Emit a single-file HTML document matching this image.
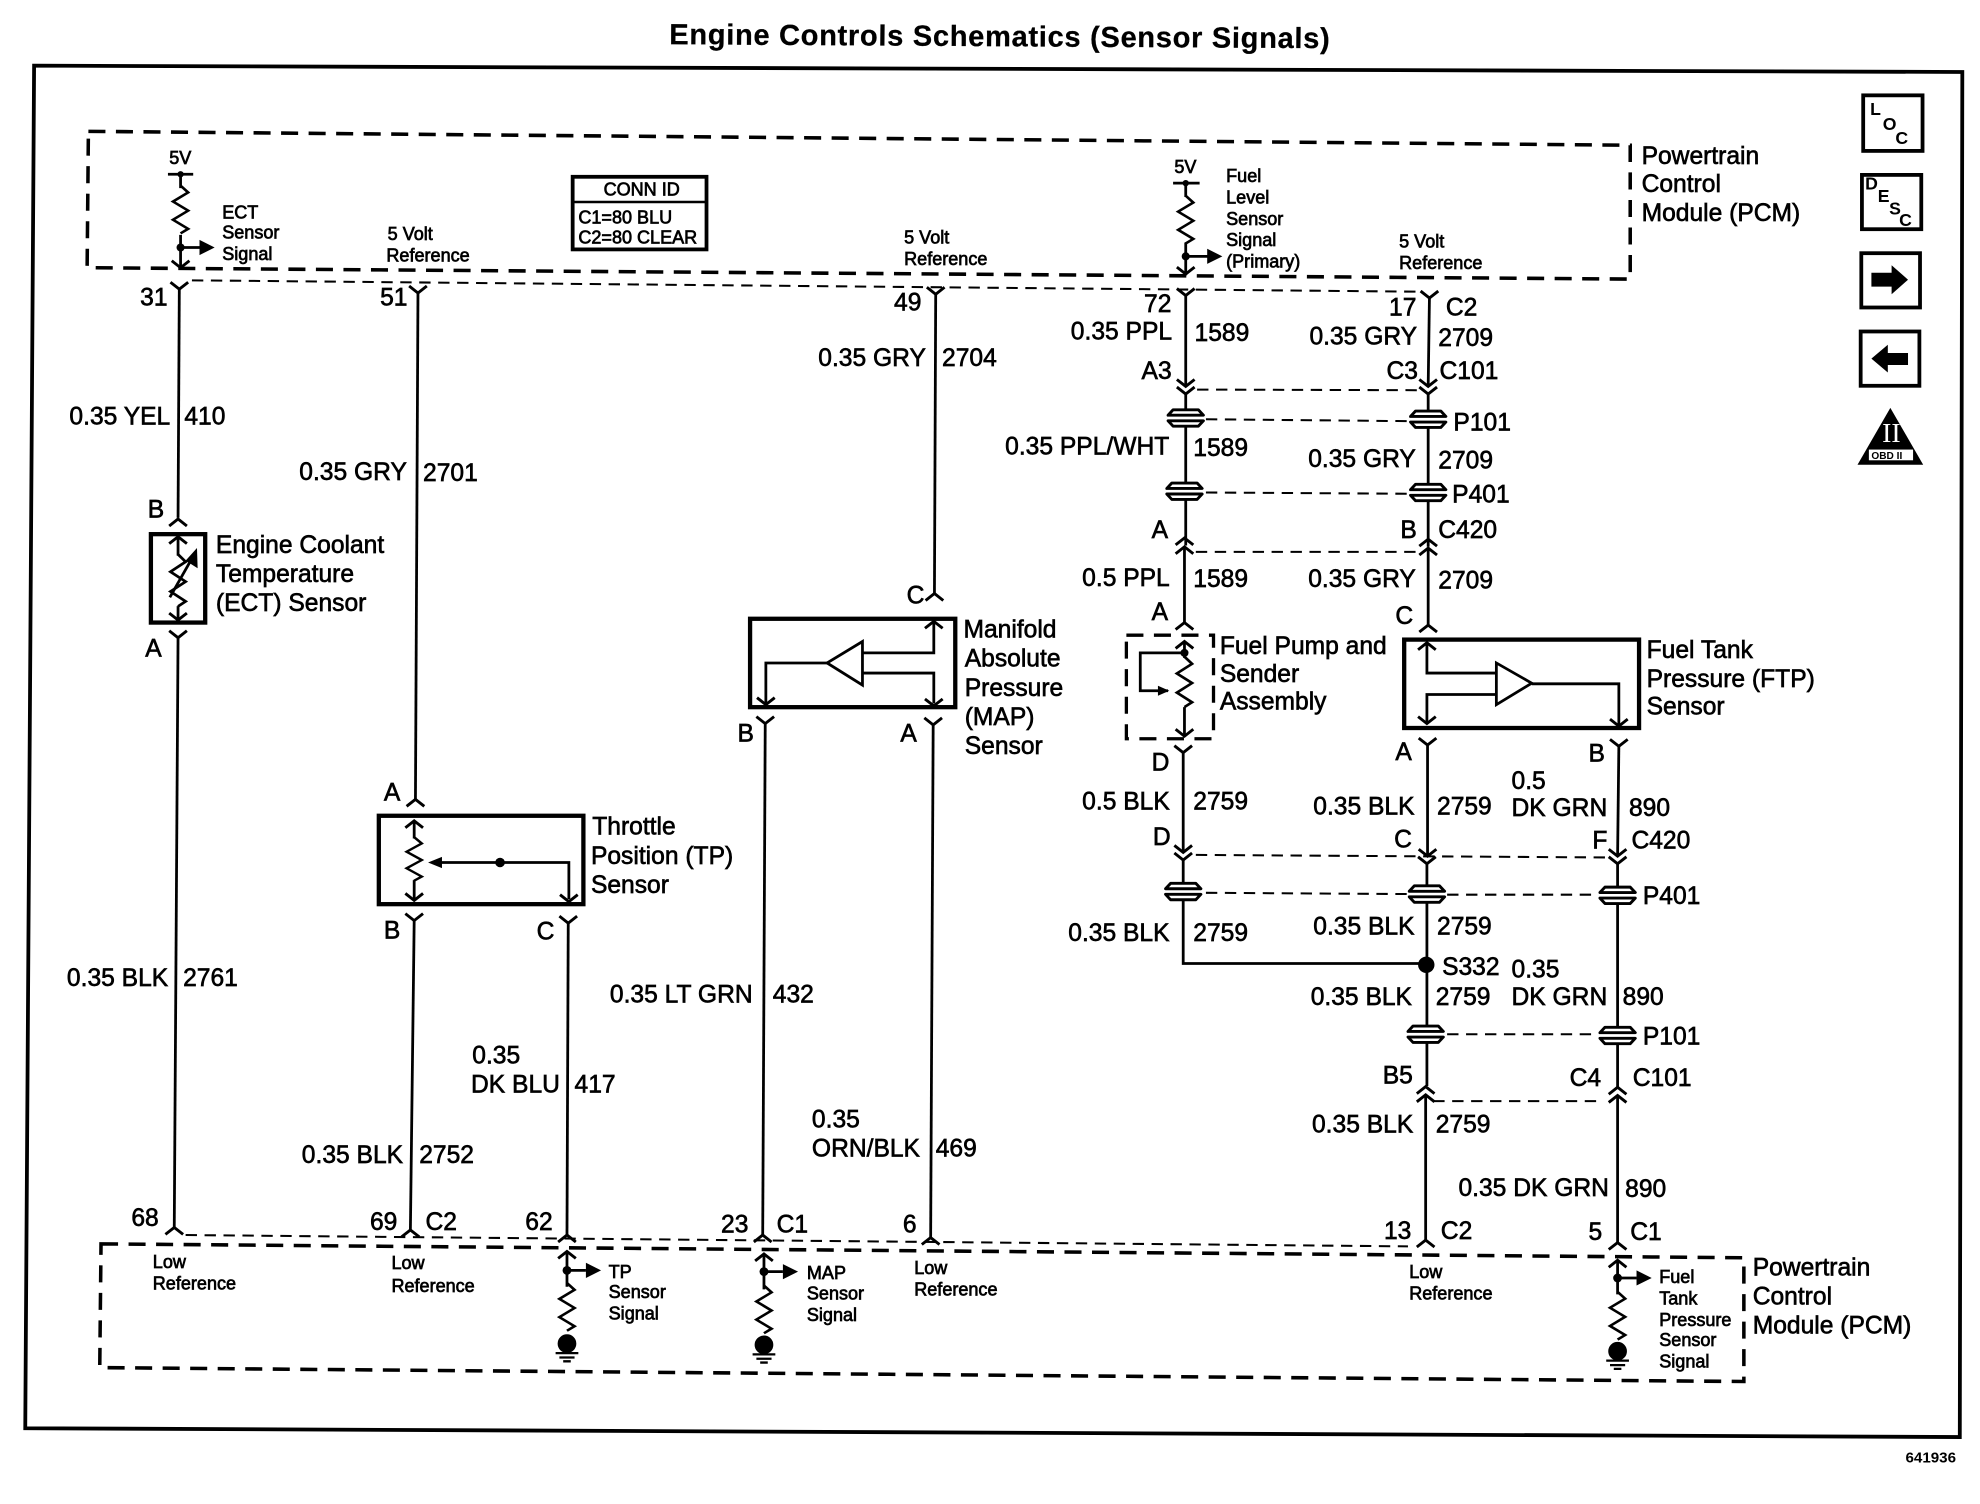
<!DOCTYPE html>
<html><head><meta charset="utf-8"><title>Engine Controls Schematics (Sensor Signals)</title>
<style>
html,body{margin:0;padding:0;background:#fff}
svg{display:block}
text{font-family:"Liberation Sans",sans-serif;fill:#000;stroke:#000}
.l{font-size:19.5px;stroke-width:.5}
.s{font-size:14.3px;stroke-width:.55}
.w{fill:none;stroke:#000;stroke-width:2.2}
.b{fill:none;stroke:#000;stroke-width:3.2}
.d{fill:none;stroke:#000;stroke-width:2.8;stroke-dasharray:13.5 8.3}
.h{fill:none;stroke:#000;stroke-width:1.6;stroke-dasharray:9 6}
</style></head><body>
<svg xmlns="http://www.w3.org/2000/svg" width="1980" height="1504" viewBox="0 0 1568 1191" preserveAspectRatio="none">
<defs>
<path id="v" d="M-7,-5.500L0,0L7,-5.500" fill="none" stroke="#000" stroke-width="2.300"/>
<path id="a" d="M-7,5.500L0,0L7,5.500" fill="none" stroke="#000" stroke-width="2.300"/>
<g id="p" fill="none" stroke="#000" stroke-width="2.300" stroke-linejoin="round">
<rect x="-13" y="-7" width="26" height="14" fill="#fff" stroke="none"/>
<path d="M-14,-2.200L-10,-6.500H10L14,-2.200Z"/>
<path d="M-14,2.200L-10,6.500H10L14,2.200Z"/>
</g>
<path id="z" d="M0,0L6,6L-6,14L6,22L-6,30L6,38L0,42" fill="none" stroke="#000" stroke-width="2.200"/>
<g id="g" stroke="#000" stroke-width="1.800"><circle cx="0" cy="0" r="6.500" fill="#000"/><path d="M-9,7.500H9M-6,11H6M-3,14H3"/></g>
<path id="rh" d="M0,-6L12,0L0,6Z" fill="#000"/>
</defs>

<!-- title -->
<text x="530" y="35" font-size="23" font-weight="bold" textLength="523" transform="rotate(.35 530 35)" style="stroke-width:.2">Engine Controls Schematics (Sensor Signals)</text>

<!-- frame -->
<path d="M27,52L1554,57L1552,1138L20,1131Z" fill="none" stroke="#000" stroke-width="3"/>
<text x="1509" y="1158" font-size="12" font-weight="bold" style="stroke-width:0">641936</text>

<!-- PCM boxes -->
<path class="d" d="M70,104L1291,115L1291,221L69,212Z"/>
<path class="d" d="M80,985L1381,996L1381,1094L79,1083Z"/>
<path class="h" d="M152,222L1124,231"/>
<path class="h" d="M147,978L1115,987"/>

<!-- ECT PCM -->
<path class="w" d="M133,138H153M143,138V149M143,186V212M143,196H160"/>
<circle cx="143" cy="138" r="2.500"/><circle cx="143" cy="196" r="3.200"/>
<g transform="translate(143 147) scale(1 .9)"><use href="#z"/></g>
<use href="#rh" x="158" y="196"/>
<use href="#v" x="143" y="212"/>
<!-- Fuel PCM -->
<path class="w" d="M929,145H950M939,145V156M939,192V218M939,203H957"/>
<circle cx="939" cy="145" r="2.500"/><circle cx="939" cy="203" r="3.200"/>
<g transform="translate(939 155) scale(1 .9)"><use href="#z"/></g>
<use href="#rh" x="956" y="203"/>
<use href="#v" x="939" y="217"/>

<!-- CONN ID -->
<rect x="453.500" y="140" width="106" height="57.500" fill="none" stroke="#000" stroke-width="3"/>
<path d="M453,160H560" stroke="#000" stroke-width="2"/>
<text class="s" x="478" y="155">CONN ID</text>
<text class="s" x="458" y="177">C1=80 BLU</text>
<text class="s" x="458" y="193">C2=80 CLEAR</text>

<!-- wire 31 / ECT -->
<use href="#v" x="142" y="229"/><path class="w" d="M142,229L141,410"/>
<use href="#a" x="141" y="411"/>
<rect x="119.500" y="423" width="43" height="70" fill="none" stroke="#000" stroke-width="3.400"/>
<path class="w" d="M141,425V440M141,480V490"/>
<use href="#a" x="141" y="425"/><use href="#v" x="141" y="491"/>
<g transform="translate(141 439) scale(1 .98)"><use href="#z"/></g>
<path class="w" d="M134.500,473L155,437"/><path d="M156,434L156.500,450L147,444Z"/>
<use href="#v" x="141" y="505"/><path class="w" d="M141,505L138,972"/><use href="#a" x="138" y="972"/>

<!-- wire 51 / TP -->
<use href="#v" x="331" y="232"/><path class="w" d="M331,232L329,633"/><use href="#a" x="329" y="633"/>
<rect x="300" y="646" width="162" height="70" fill="none" stroke="#000" stroke-width="3.400"/>
<path class="w" d="M328,650V664M328,697V712"/>
<use href="#a" x="328" y="650"/><use href="#v" x="328" y="713"/>
<g transform="translate(328 663) scale(1 .82)"><use href="#z"/></g>
<path class="w" d="M345,683H450.500V712"/><path d="M339,683L350,678.500V687.500Z"/>
<circle cx="396" cy="683" r="3.800"/><use href="#v" x="450.500" y="714"/>
<use href="#v" x="328" y="729"/><path class="w" d="M328,729L325,974"/><use href="#a" x="325" y="974"/>
<use href="#v" x="450" y="731"/><path class="w" d="M450,731L449,978"/><use href="#a" x="449" y="978"/>

<!-- wire 49 / MAP -->
<use href="#v" x="741" y="233"/><path class="w" d="M741,233L740,470"/><use href="#a" x="740" y="470"/>
<rect x="594" y="490" width="162.500" height="70" fill="none" stroke="#000" stroke-width="3.400"/>
<path class="w" d="M739.500,493V517H683M683,533H739.500V557M655,525H606.500V557"/>
<path class="w" d="M655,525L683,508V542.500Z"/>
<use href="#a" x="739.500" y="492"/><use href="#v" x="739.500" y="559"/><use href="#v" x="606.500" y="558"/>
<use href="#v" x="606" y="573"/><path class="w" d="M606,573L604,978"/><use href="#a" x="604" y="978"/>
<use href="#v" x="739" y="574"/><path class="w" d="M739,574L737,980"/><use href="#a" x="737" y="980"/>

<!-- Fuel level column -->
<use href="#v" x="939" y="234"/><path class="w" d="M939,234V306"/><use href="#v" x="939" y="306"/>
<use href="#v" x="939" y="312"/><path class="w" d="M939,312V432"/>
<use href="#p" x="939" y="331"/><use href="#p" x="938" y="389"/>
<use href="#a" x="938" y="426"/><use href="#a" x="938" y="433"/>
<path class="w" d="M938,433V493"/><use href="#a" x="938" y="493"/>
<path class="d" style="stroke-width:2.600" d="M892,503H961V585H892Z"/>
<path class="w" d="M938,509V521M938,560V582M938,517H903V547H925"/>
<circle cx="938" cy="517" r="3.200"/>
<use href="#a" x="938" y="508"/><use href="#v" x="938" y="583"/>
<path d="M917,543L926,547L917,551Z"/>
<g transform="translate(938 520) scale(1 .95)"><use href="#z"/></g>
<use href="#v" x="937" y="596"/><path class="w" d="M937,596V675"/><use href="#v" x="937" y="675"/>
<use href="#v" x="937" y="681"/><path class="w" d="M937,681V763H1129"/>
<use href="#p" x="937" y="706"/>

<!-- 2709 column -->
<use href="#v" x="1132" y="236"/><path class="w" d="M1132,236L1131,306"/><use href="#v" x="1131" y="306"/>
<use href="#v" x="1131" y="312"/><path class="w" d="M1131,312V433"/>
<use href="#p" x="1131" y="332"/><use href="#p" x="1131" y="390"/>
<use href="#a" x="1131" y="427"/><use href="#a" x="1131" y="434"/>
<path class="w" d="M1131,434V495"/><use href="#a" x="1131" y="495"/>
<path class="h" d="M948,308.500L1122,309"/>
<path class="h" d="M955,332L1115,333.500"/>
<path class="h" d="M955,390L1115,391"/>
<path class="h" d="M947,437H1122"/>

<!-- FTP -->
<rect x="1112" y="506.500" width="186" height="70" fill="none" stroke="#000" stroke-width="3.400"/>
<path class="w" d="M1130,510V533H1185M1185,550H1130V572M1213,541.500H1282V574"/>
<path class="w" d="M1213,541L1185,525V558Z"/>
<use href="#a" x="1130" y="509"/><use href="#v" x="1130" y="573"/><use href="#v" x="1282" y="575"/>
<use href="#v" x="1130.500" y="590"/><path class="w" d="M1130.500,590V678"/><use href="#v" x="1130.500" y="678"/>
<use href="#v" x="1130" y="684"/><path class="w" d="M1130,684V860"/>
<use href="#p" x="1130" y="708"/><use href="#p" x="1129" y="819"/>
<circle cx="1129.500" cy="764" r="6.500"/>
<use href="#a" x="1129" y="860.500"/><use href="#a" x="1129" y="867"/>
<path class="w" d="M1129,867V982"/><use href="#a" x="1129" y="982"/>
<use href="#v" x="1282" y="591"/><path class="w" d="M1282,591L1281,678"/><use href="#v" x="1281" y="678"/>
<use href="#v" x="1281" y="684"/><path class="w" d="M1281,684V862"/>
<use href="#p" x="1281" y="709"/><use href="#p" x="1281" y="820"/>
<use href="#a" x="1281" y="861"/><use href="#a" x="1281" y="867.500"/>
<path class="w" d="M1281,868V984"/><use href="#a" x="1281" y="984"/>
<path class="h" d="M947,677L1272,679"/>
<path class="h" d="M955,707L1116,708M1146,708.500H1265"/>
<path class="h" d="M1146,819H1265"/>
<path class="h" d="M1135,872H1269"/>

<!-- Bottom PCM sensors -->
<use href="#a" x="449" y="991"/><path class="w" d="M449,991V1019M449,1006H464"/>
<circle cx="449" cy="1006" r="3.500"/><use href="#rh" x="464" y="1006"/>
<g transform="translate(449 1016) scale(1 .9)"><use href="#z"/></g><use href="#g" x="449" y="1064"/>
<use href="#a" x="605" y="993"/><path class="w" d="M605,993V1021M605,1007H620"/>
<circle cx="605" cy="1007" r="3.500"/><use href="#rh" x="620" y="1007"/>
<g transform="translate(605 1018) scale(1 .9)"><use href="#z"/></g><use href="#g" x="605" y="1065"/>
<use href="#a" x="1281" y="998"/><path class="w" d="M1281,998V1025M1281,1012H1296"/>
<circle cx="1281" cy="1012" r="3.500"/><use href="#rh" x="1296" y="1012"/>
<g transform="translate(1281 1023) scale(1 .9)"><use href="#z"/></g><use href="#g" x="1281" y="1070"/>

<!-- Large labels -->
<g>
<text class="l" x="111" y="242">31</text><text class="l" x="301" y="242">51</text><text class="l" x="708" y="246">49</text><text class="l" x="906" y="247">72</text><text class="l" x="1100" y="250">17</text><text class="l" x="1145" y="250">C2</text>
<text class="l" x="55" y="336">0.35 YEL</text><text class="l" x="146" y="336">410</text>
<text class="l" x="237" y="380">0.35 GRY</text><text class="l" x="335" y="381">2701</text>
<text class="l" x="648" y="290">0.35 GRY</text><text class="l" x="746" y="290">2704</text>
<text class="l" x="848" y="269">0.35 PPL</text><text class="l" x="946" y="270">1589</text>
<text class="l" x="1037" y="273">0.35 GRY</text><text class="l" x="1139" y="274">2709</text>
<text class="l" x="904" y="300">A3</text><text class="l" x="1098" y="300">C3</text><text class="l" x="1140" y="300">C101</text>
<text class="l" x="1151" y="341">P101</text>
<text class="l" x="796" y="360">0.35 PPL/WHT</text><text class="l" x="945" y="361">1589</text>
<text class="l" x="1036" y="370">0.35 GRY</text><text class="l" x="1139" y="371">2709</text>
<text class="l" x="1150" y="398">P401</text>
<text class="l" x="912" y="426">A</text><text class="l" x="1109" y="426">B</text><text class="l" x="1139" y="426">C420</text>
<text class="l" x="857" y="464">0.5 PPL</text><text class="l" x="945" y="465">1589</text><text class="l" x="1036" y="465">0.35 GRY</text><text class="l" x="1139" y="466">2709</text>
<text class="l" x="912" y="491">A</text><text class="l" x="1105" y="494">C</text>
<text class="l" x="117" y="410">B</text>
<text class="l" x="171" y="438">Engine Coolant</text><text class="l" x="171" y="461">Temperature</text><text class="l" x="171" y="484">(ECT) Sensor</text>
<text class="l" x="115" y="520">A</text>
<text class="l" x="718" y="478">C</text>
<text class="l" x="763" y="505">Manifold</text><text class="l" x="764" y="528">Absolute</text><text class="l" x="764" y="551">Pressure</text><text class="l" x="764" y="574">(MAP)</text><text class="l" x="764" y="597">Sensor</text>
<text class="l" x="584" y="587">B</text><text class="l" x="713" y="587">A</text>
<text class="l" x="1105" y="602">A</text><text class="l" x="1258" y="603">B</text>
<text class="l" x="966" y="518">Fuel Pump and</text><text class="l" x="966" y="540">Sender</text><text class="l" x="966" y="562">Assembly</text>
<text class="l" x="1304" y="521">Fuel Tank</text><text class="l" x="1304" y="544">Pressure (FTP)</text><text class="l" x="1304" y="566">Sensor</text>
<text class="l" x="912" y="610">D</text>
<text class="l" x="857" y="641">0.5 BLK</text><text class="l" x="945" y="641">2759</text>
<text class="l" x="1040" y="645">0.35 BLK</text><text class="l" x="1138" y="645">2759</text>
<text class="l" x="1197" y="625">0.5</text><text class="l" x="1197" y="646">DK GRN</text><text class="l" x="1290" y="646">890</text>
<text class="l" x="913" y="669">D</text><text class="l" x="1104" y="671">C</text><text class="l" x="1261" y="672">F</text><text class="l" x="1292" y="672">C420</text>
<text class="l" x="1301" y="716">P401</text>
<text class="l" x="304" y="634">A</text>
<text class="l" x="469" y="661">Throttle</text><text class="l" x="468" y="684">Position (TP)</text><text class="l" x="468" y="707">Sensor</text>
<text class="l" x="304" y="743">B</text><text class="l" x="425" y="744">C</text>
<text class="l" x="846" y="745">0.35 BLK</text><text class="l" x="945" y="745">2759</text>
<text class="l" x="1040" y="740">0.35 BLK</text><text class="l" x="1138" y="740">2759</text>
<text class="l" x="1142" y="772">S332</text>
<text class="l" x="1197" y="774">0.35</text><text class="l" x="1197" y="796">DK GRN</text><text class="l" x="1285" y="796">890</text>
<text class="l" x="1038" y="796">0.35 BLK</text><text class="l" x="1137" y="796">2759</text>
<text class="l" x="53" y="781">0.35 BLK</text><text class="l" x="145" y="781">2761</text>
<text class="l" x="483" y="794">0.35 LT GRN</text><text class="l" x="612" y="794">432</text>
<text class="l" x="1301" y="827">P101</text>
<text class="l" x="374" y="842">0.35</text><text class="l" x="373" y="865">DK BLU</text><text class="l" x="455" y="865">417</text>
<text class="l" x="1095" y="858">B5</text><text class="l" x="1243" y="860">C4</text><text class="l" x="1293" y="860">C101</text>
<text class="l" x="643" y="893">0.35</text><text class="l" x="643" y="916">ORN/BLK</text><text class="l" x="741" y="916">469</text>
<text class="l" x="1039" y="897">0.35 BLK</text><text class="l" x="1137" y="897">2759</text>
<text class="l" x="239" y="921">0.35 BLK</text><text class="l" x="332" y="921">2752</text>
<text class="l" x="1155" y="947">0.35 DK GRN</text><text class="l" x="1287" y="948">890</text>
<text class="l" x="104" y="971">68</text><text class="l" x="293" y="974">69</text><text class="l" x="337" y="974">C2</text><text class="l" x="416" y="974">62</text><text class="l" x="571" y="976">23</text><text class="l" x="615" y="976">C1</text><text class="l" x="715" y="976">6</text><text class="l" x="1096" y="981">13</text><text class="l" x="1141" y="981">C2</text><text class="l" x="1258" y="982">5</text><text class="l" x="1291" y="982">C1</text>
<text class="l" x="1300" y="130">Powertrain</text><text class="l" x="1300" y="152">Control</text><text class="l" x="1300" y="175">Module (PCM)</text>
<text class="l" x="1388" y="1010">Powertrain</text><text class="l" x="1388" y="1033">Control</text><text class="l" x="1388" y="1056">Module (PCM)</text>
</g>

<!-- Small labels -->
<text class="s" x="134" y="130">5V</text>
<text class="s" x="176" y="173">ECT</text><text class="s" x="176" y="189">Sensor</text><text class="s" x="176" y="206">Signal</text>
<text class="s" x="307" y="190">5 Volt</text><text class="s" x="306" y="207">Reference</text>
<text class="s" x="716" y="193">5 Volt</text><text class="s" x="716" y="210">Reference</text>
<text class="s" x="930" y="137">5V</text>
<text class="s" x="971" y="144">Fuel</text><text class="s" x="971" y="161">Level</text><text class="s" x="971" y="178">Sensor</text><text class="s" x="971" y="195">Signal</text><text class="s" x="971" y="212">(Primary)</text>
<text class="s" x="1108" y="196">5 Volt</text><text class="s" x="1108" y="213">Reference</text>
<text class="s" x="121" y="1004">Low</text><text class="s" x="121" y="1021">Reference</text>
<text class="s" x="310" y="1005">Low</text><text class="s" x="310" y="1023">Reference</text>
<text class="s" x="482" y="1012">TP</text><text class="s" x="482" y="1028">Sensor</text><text class="s" x="482" y="1045">Signal</text>
<text class="s" x="639" y="1013">MAP</text><text class="s" x="639" y="1029">Sensor</text><text class="s" x="639" y="1046">Signal</text>
<text class="s" x="724" y="1009">Low</text><text class="s" x="724" y="1026">Reference</text>
<text class="s" x="1116" y="1012">Low</text><text class="s" x="1116" y="1029">Reference</text>
<text class="s" x="1314" y="1016">Fuel</text><text class="s" x="1314" y="1033">Tank</text><text class="s" x="1314" y="1050">Pressure</text><text class="s" x="1314" y="1066">Sensor</text><text class="s" x="1314" y="1083">Signal</text>

<!-- Right icons -->
<rect x="1475.500" y="75.500" width="47" height="44" fill="none" stroke="#000" stroke-width="3"/>
<text x="1481" y="91" font-size="14" font-weight="bold" style="stroke-width:0">L</text><text x="1491" y="103" font-size="14" font-weight="bold" style="stroke-width:0">O</text><text x="1501" y="114" font-size="14" font-weight="bold" style="stroke-width:0">C</text>
<rect x="1474.500" y="138.500" width="47" height="43" fill="none" stroke="#000" stroke-width="3"/>
<text x="1477" y="150" font-size="14" font-weight="bold" style="stroke-width:0">D</text><text x="1487" y="160" font-size="14" font-weight="bold" style="stroke-width:0">E</text><text x="1496" y="170" font-size="14" font-weight="bold" style="stroke-width:0">S</text><text x="1504" y="179" font-size="14" font-weight="bold" style="stroke-width:0">C</text>
<rect x="1474" y="200.500" width="46.500" height="43" fill="none" stroke="#000" stroke-width="3"/>
<path d="M1482,216H1498V210L1511,221.500L1498,233V227H1482Z"/>
<rect x="1473.500" y="262.500" width="46.500" height="43" fill="none" stroke="#000" stroke-width="3"/>
<path d="M1511,279.500H1495V273L1482,284L1495,295V289H1511Z"/>
<path d="M1497,323L1523,368H1471Z"/>
<text x="1490.500" y="350" font-size="22" style="fill:#fff;stroke:none;font-family:'Liberation Serif',serif">II</text>
<rect x="1480" y="356" width="35" height="8.500" fill="#fff"/>
<text x="1482" y="363.500" font-size="8" font-weight="bold" style="stroke-width:0">OBD II</text>
</svg>
</body></html>
